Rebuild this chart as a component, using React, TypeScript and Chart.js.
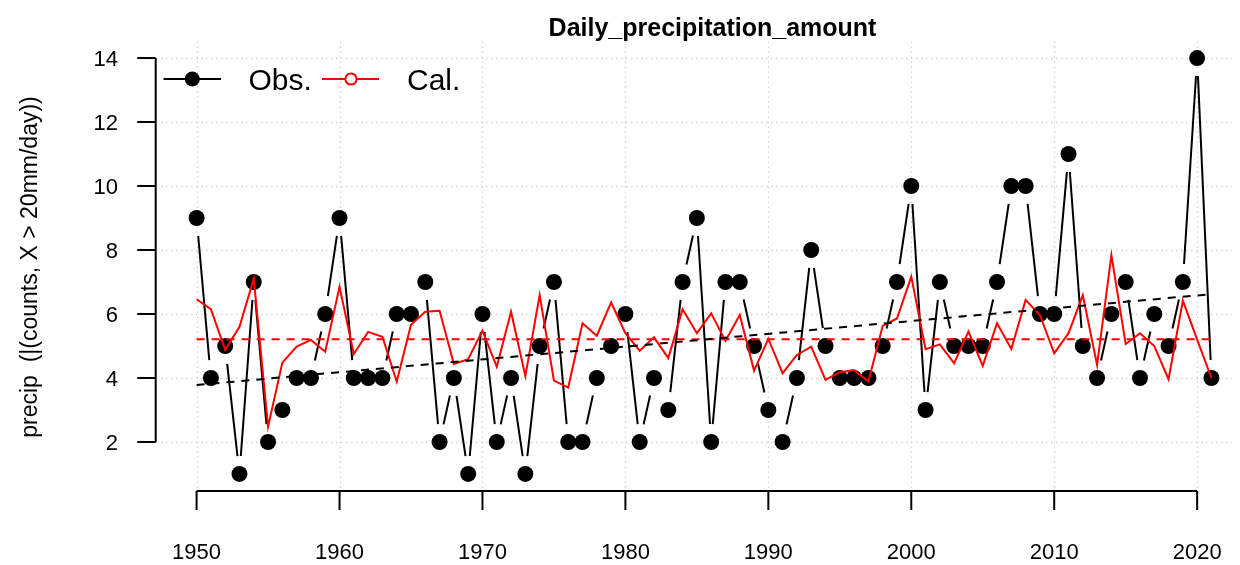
import React, { useEffect, useRef } from "react";
import { Chart, registerables } from "chart.js";

Chart.register(...registerables);

const years = [
  1950, 1951, 1952, 1953, 1954, 1955, 1956, 1957, 1958, 1959,
  1960, 1961, 1962, 1963, 1964, 1965, 1966, 1967, 1968, 1969,
  1970, 1971, 1972, 1973, 1974, 1975, 1976, 1977, 1978, 1979,
  1980, 1981, 1982, 1983, 1984, 1985, 1986, 1987, 1988, 1989,
  1990, 1991, 1992, 1993, 1994, 1995, 1996, 1997, 1998, 1999,
  2000, 2001, 2002, 2003, 2004, 2005, 2006, 2007, 2008, 2009,
  2010, 2011, 2012, 2013, 2014, 2015, 2016, 2017, 2018, 2019,
  2020, 2021,
];

const obsValues = [
  9, 4, 5, 1, 7, 2, 3, 4, 4, 6,
  9, 4, 4, 4, 6, 6, 7, 2, 4, 1,
  6, 2, 4, 1, 5, 7, 2, 2, 4, 5,
  6, 2, 4, 3, 7, 9, 2, 7, 7, 5,
  3, 2, 4, 8, 5, 4, 4, 4, 5, 7,
  10, 3, 7, 5, 5, 5, 7, 10, 10, 6,
  6, 11, 5, 4, 6, 7, 4, 6, 5, 7,
  14, 4,
];

const calValues = [
  6.46, 6.15, 4.88, 5.6, 7.1, 2.48, 4.48, 4.98, 5.19, 4.82,
  6.85, 4.75, 5.44, 5.29, 3.89, 5.66, 6.07, 6.1, 4.44, 4.59,
  5.48, 4.35, 6.07, 4.06, 6.59, 3.92, 3.7, 5.71, 5.32, 6.36,
  5.4, 4.85, 5.27, 4.62, 6.15, 5.4, 6.02, 5.16, 5.97, 4.23,
  5.22, 4.15, 4.72, 4.98, 3.94, 4.18, 4.25, 3.89, 5.63, 5.86,
  7.17, 4.9, 5.05, 4.46, 5.45, 4.38, 5.71, 4.91, 6.44, 5.97,
  4.77, 5.4, 6.59, 4.41, 7.84, 5.06, 5.4, 5.0, 3.96, 6.42,
  5.2, 4.0,
];

const meanYears = [1950, 2021];
const meanValues = [5.21, 5.21];
const trendYears = [1950, 2021];
const trendValues = [3.78, 6.62];

const xTicks = [1950, 1960, 1970, 1980, 1990, 2000, 2010, 2020];
const yTicks = [2, 4, 6, 8, 10, 12, 14];

const titleText = "Daily_precipitation_amount";
const yAxisLabel = "precip  (|(counts, X > 20mm/day))";
const legendLabels = ["Obs.", "Cal."];

const FONT = '"Liberation Sans", Arial, Helvetica, sans-serif';

const rStylePlugin = {
  id: "rStyle",
  beforeDatasetsDraw(chart: any) {
    const { ctx, chartArea, scales } = chart;
    const xs = scales.x;
    const ys = scales.y;
    ctx.save();
    ctx.strokeStyle = "#d3d3d3";
    ctx.lineWidth = 1.3;
    ctx.setLineDash([1.5, 3.5]);
    for (const t of xTicks) {
      const px = Math.round(xs.getPixelForValue(t)) + 0.5;
      ctx.beginPath();
      ctx.moveTo(px, chartArea.top);
      ctx.lineTo(px, chartArea.bottom);
      ctx.stroke();
    }
    for (const t of yTicks) {
      const py = Math.round(ys.getPixelForValue(t)) + 0.5;
      ctx.beginPath();
      ctx.moveTo(chartArea.left, py);
      ctx.lineTo(chartArea.right, py);
      ctx.stroke();
    }
    ctx.restore();

    ctx.save();
    ctx.strokeStyle = "#000";
    ctx.lineWidth = 2;
    ctx.setLineDash([]);
    const gap = 18;
    for (let i = 0; i < years.length - 1; i++) {
      const x0 = xs.getPixelForValue(years[i]);
      const y0 = ys.getPixelForValue(obsValues[i]);
      const x1 = xs.getPixelForValue(years[i + 1]);
      const y1 = ys.getPixelForValue(obsValues[i + 1]);
      const dx = x1 - x0;
      const dy = y1 - y0;
      const len = Math.sqrt(dx * dx + dy * dy);
      if (len <= 2 * gap) continue;
      const ux = dx / len;
      const uy = dy / len;
      ctx.beginPath();
      ctx.moveTo(x0 + ux * gap, y0 + uy * gap);
      ctx.lineTo(x1 - ux * gap, y1 - uy * gap);
      ctx.stroke();
    }
    ctx.restore();
  },
  afterDraw(chart: any) {
    const { ctx, scales } = chart;
    const xs = scales.x;
    const ys = scales.y;
    ctx.save();
    ctx.setLineDash([]);
    ctx.strokeStyle = "#000";
    ctx.fillStyle = "#000";
    ctx.lineWidth = 2;
    ctx.lineCap = "butt";

    const axX = 155.7;
    const yTop = ys.getPixelForValue(yTicks[yTicks.length - 1]);
    const yBot = ys.getPixelForValue(yTicks[0]);
    ctx.beginPath();
    ctx.moveTo(axX, yBot);
    ctx.lineTo(axX, yTop);
    ctx.stroke();
    ctx.font = `22px ${FONT}`;
    ctx.textAlign = "right";
    ctx.textBaseline = "alphabetic";
    for (const t of yTicks) {
      const py = ys.getPixelForValue(t);
      ctx.beginPath();
      ctx.moveTo(axX - 18.5, py);
      ctx.lineTo(axX, py);
      ctx.stroke();
      ctx.fillText(String(t), 118, py + 8);
    }

    const axY = 491;
    const xL = xs.getPixelForValue(xTicks[0]);
    const xR = xs.getPixelForValue(xTicks[xTicks.length - 1]);
    ctx.beginPath();
    ctx.moveTo(xL, axY);
    ctx.lineTo(xR, axY);
    ctx.stroke();
    ctx.textAlign = "center";
    for (const t of xTicks) {
      const px = xs.getPixelForValue(t);
      ctx.beginPath();
      ctx.moveTo(px, axY);
      ctx.lineTo(px, axY + 19);
      ctx.stroke();
      ctx.fillText(String(t), px, 558.5);
    }

    ctx.save();
    ctx.translate(31, 267);
    ctx.rotate(-Math.PI / 2);
    ctx.font = `23px ${FONT}`;
    ctx.textAlign = "center";
    ctx.textBaseline = "middle";
    ctx.fillText(yAxisLabel, 0, 0);
    ctx.restore();

    ctx.font = `bold 25px ${FONT}`;
    ctx.textAlign = "center";
    ctx.textBaseline = "alphabetic";
    ctx.fillText(titleText, 712.5, 35.7);

    const ly = 79;
    ctx.lineWidth = 2;
    ctx.strokeStyle = "#000";
    ctx.beginPath();
    ctx.moveTo(163.5, ly);
    ctx.lineTo(221, ly);
    ctx.stroke();
    ctx.beginPath();
    ctx.arc(192.3, ly, 7.6, 0, Math.PI * 2);
    ctx.fill();
    ctx.font = `30px ${FONT}`;
    ctx.textAlign = "left";
    ctx.fillStyle = "#000";
    ctx.fillText(legendLabels[0], 248.5, 90);

    ctx.strokeStyle = "#ff0000";
    ctx.beginPath();
    ctx.moveTo(322, ly);
    ctx.lineTo(379, ly);
    ctx.stroke();
    ctx.fillStyle = "#ffffff";
    ctx.beginPath();
    ctx.arc(351, ly, 5.6, 0, Math.PI * 2);
    ctx.fill();
    ctx.stroke();
    ctx.fillStyle = "#000";
    ctx.fillText(legendLabels[1], 407, 90);
    ctx.restore();
  },
};

export default function App() {
  const canvasRef = useRef<HTMLCanvasElement | null>(null);

  useEffect(() => {
    const canvas = canvasRef.current;
    if (!canvas) return;
    const obsData = years.map((yr, i) => ({ x: yr, y: obsValues[i] }));
    const calData = years.map((yr, i) => ({ x: yr, y: calValues[i] }));
    const meanData = meanYears.map((yr, i) => ({ x: yr, y: meanValues[i] }));
    const trendData = trendYears.map((yr, i) => ({ x: yr, y: trendValues[i] }));

    const chart = new Chart(canvas, {
      type: "scatter",
      data: {
        datasets: [
          {
            label: "trend",
            data: trendData,
            showLine: true,
            borderColor: "#000000",
            borderWidth: 2,
            borderDash: [8, 7],
            pointRadius: 0,
            order: 0,
          },
          {
            label: "mean",
            data: meanData,
            showLine: true,
            borderColor: "#ff0000",
            borderWidth: 2,
            borderDash: [8, 7],
            pointRadius: 0,
            order: 1,
          },
          {
            label: legendLabels[1],
            data: calData,
            showLine: true,
            borderColor: "#ff0000",
            borderWidth: 2,
            pointRadius: 0,
            tension: 0,
            order: 2,
          },
          {
            label: legendLabels[0],
            data: obsData,
            showLine: false,
            pointRadius: 8,
            pointHoverRadius: 8,
            pointBackgroundColor: "#000000",
            pointBorderWidth: 0,
            borderColor: "#000000",
            order: 3,
          },
        ],
      },
      options: {
        responsive: false,
        animation: false,
        events: [],
        layout: {
          padding: { left: 156, right: 0, top: 41.4, bottom: 74.4 },
        },
        scales: {
          x: { type: "linear", display: false, min: 1947.16, max: 2022.438 },
          y: { type: "linear", display: false, min: 0.48, max: 14.52 },
        },
        plugins: {
          legend: { display: false },
          title: { display: false },
          tooltip: { enabled: false },
        },
      },
      plugins: [rStylePlugin],
    });
    return () => chart.destroy();
  }, []);

  return (
    <div style={{ position: "absolute", left: 0, top: 0, width: 1240, height: 565, background: "#fff" }}>
      <canvas ref={canvasRef} width={1240} height={565} style={{ display: "block" }} />
    </div>
  );
}
